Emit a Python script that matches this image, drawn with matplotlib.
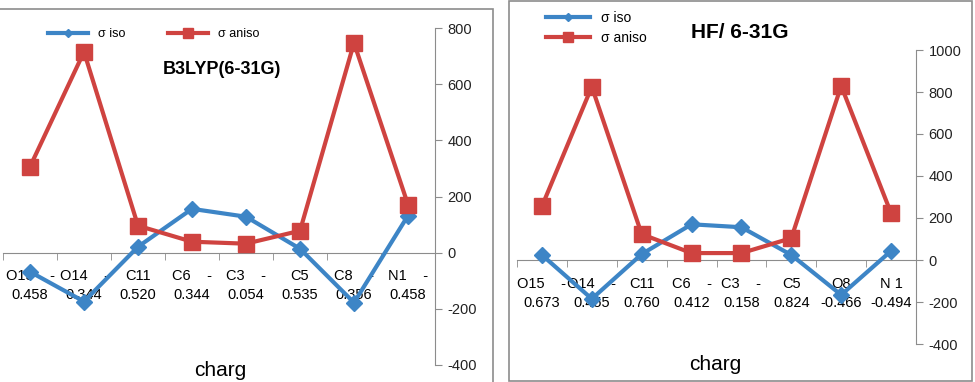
import matplotlib.pyplot as plt
from matplotlib.lines import Line2D
from matplotlib.patches import Rectangle

# B3LYP(6-31G) panel
b3_labels = ["O15    -\n0.458", "O14    -\n0.344", "C11\n0.520", "C6    -\n0.344",
             "C3    -\n0.054", "C5\n0.535", "C8    -\n0.356", "N1    -\n0.458"]
b3_iso = [-68, -174, 21, 156, 128, 14, -178, 132]
b3_aniso = [306, 715, 96, 39, 32, 78, 747, 171]

# HF/6-31G panel
hf_labels = ["O15    -\n0.673", "O14    -\n0.455", "C11\n0.760", "C6    -\n0.412",
             "C3    -\n0.158", "C5\n0.824", "O8\n-0.466", "N 1\n-0.494"]
hf_iso = [24, -185, 28, 170, 156, 24, -166, 43]
hf_aniso = [256, 825, 123, 33, 33, 104, 829, 223]

BLUE = "#3D85C6"
RED = "#CF4340"
GRAY = "#8C8C8C"
FONT = ["Liberation Sans", "DejaVu Sans"]

plt.rcParams["font.family"] = FONT
plt.rcParams["axes.unicode_minus"] = False

W, H = 975, 382
fig = plt.figure(figsize=(W / 100, H / 100), dpi=100)


def px_axes(x0, x1, ytop, ybot):
    return fig.add_axes([x0 / W, 1 - ybot / H, (x1 - x0) / W, (ybot - ytop) / H])


def draw_panel(ax, labels, iso, aniso, ylim, yticks):
    n = len(labels)
    x = list(range(n))
    ax.plot(x, iso, color=BLUE, lw=3, marker="D", ms=8, zorder=3, clip_on=False)
    ax.plot(x, aniso, color=RED, lw=3, marker="s", ms=11, zorder=4, clip_on=False)
    ax.set_xlim(-0.5, n - 0.5)
    ax.set_ylim(*ylim)
    ax.set_yticks(yticks)
    ax.yaxis.tick_right()
    for s in ["top", "left"]:
        ax.spines[s].set_visible(False)
    ax.spines["right"].set_color(GRAY)
    ax.spines["bottom"].set_color(GRAY)
    ax.spines["bottom"].set_position(("data", 0))
    ax.tick_params(axis="y", direction="out", length=5, color=GRAY, labelsize=10.5,
                   pad=4, labelcolor="#222222")
    ax.set_xticks(x)
    ax.set_xticklabels(labels, fontsize=10.5, linespacing=1.45)
    ax.tick_params(axis="x", length=0, pad=12)
    ax.set_xticks([i - 0.5 for i in range(n + 1)], minor=True)
    ax.tick_params(axis="x", which="minor", length=5, color=GRAY, direction="out")
    ax.patch.set_alpha(0)


axL = px_axes(3, 435, 28, 365)
draw_panel(axL, b3_labels, b3_iso, b3_aniso, (-400, 800), range(-400, 801, 200))

axR = px_axes(517, 916, 50, 344)
draw_panel(axR, hf_labels, hf_iso, hf_aniso, (-400, 1000), range(-400, 1001, 200))

# titles and axis names
fig.text(222 / W, 1 - 70 / H, "B3LYP(6-31G)", ha="center", va="center",
         fontsize=13, fontweight="bold")
fig.text(740 / W, 1 - 33 / H, "HF/ 6-31G", ha="center", va="center",
         fontsize=15, fontweight="bold")
fig.text(220 / W, 1 - 371 / H, "charg", ha="center", va="center", fontsize=15)
fig.text(715 / W, 1 - 364 / H, "charg", ha="center", va="center", fontsize=15)

# legends
h_iso = Line2D([], [], color=BLUE, lw=3, marker="D", ms=4)
h_aniso = Line2D([], [], color=RED, lw=3, marker="s", ms=7)
fig.legend([h_iso, h_aniso], ["σ iso", "σ aniso"], loc="center left",
           bbox_to_anchor=(37 / W, 1 - 34 / H), ncol=2, frameon=False,
           fontsize=9, handlelength=3.2, columnspacing=3.4, handletextpad=0.8)
fig.legend([h_iso, h_aniso], ["σ iso", "σ aniso"], loc="center left",
           bbox_to_anchor=(533 / W, 1 - 28 / H), ncol=1, frameon=False,
           fontsize=10, handlelength=3.2, handletextpad=0.8, labelspacing=0.45)

# chart area frames
fig.add_artist(Rectangle((-5 / W, -5 / H), 498 / W, (H - 9 + 5) / H,
                         transform=fig.transFigure, fill=False, ec=GRAY, lw=1.2))
fig.add_artist(Rectangle((509 / W, 1 / H), 463 / W, (H - 2) / H,
                         transform=fig.transFigure, fill=False, ec=GRAY, lw=1.2))

fig.savefig("out.png", dpi=100)
